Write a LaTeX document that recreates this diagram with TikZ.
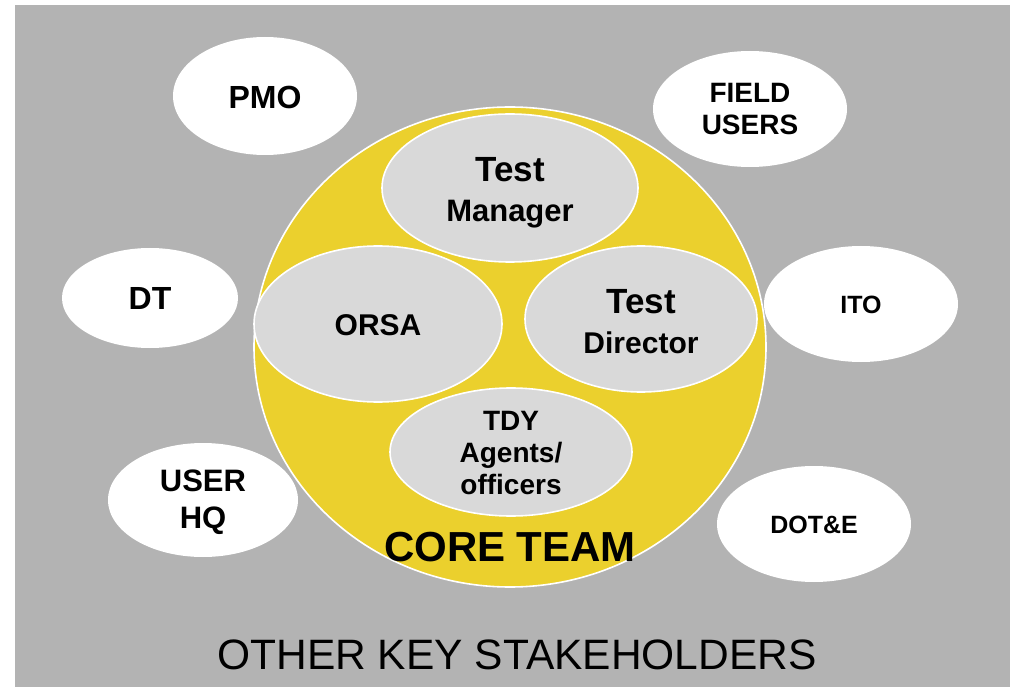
\documentclass[tikz,border=0pt]{standalone}
\usepackage{fontspec}
\setmainfont{Liberation Sans}
\definecolor{bggray}{RGB}{179,179,179}
\definecolor{coreyellow}{RGB}{235,208,45}
\definecolor{innergray}{RGB}{217,217,217}
\begin{document}
\begin{tikzpicture}[x=1pt,y=-1pt,
  outerov/.style={fill=white},
  coreov/.style={fill=coreyellow, draw=white, line width=1.6pt},
  innerov/.style={fill=innergray, draw=white, line width=1.6pt},
  lbl/.style={font=\bfseries, align=center, text=black, inner sep=0pt}]
\useasboundingbox (0,0) rectangle (1010,687);
\fill[bggray] (15,5.5) rectangle (1010,687);
% outer stakeholder ellipses
\path[outerov] (265,96) ellipse [x radius=92, y radius=59];
\path[outerov] (750,109) ellipse [x radius=97, y radius=58];
\path[outerov] (150,298) ellipse [x radius=88, y radius=50];
\path[outerov] (861,304) ellipse [x radius=97, y radius=58];
\path[outerov] (203,500) ellipse [x radius=95, y radius=57];
\path[outerov] (814,524) ellipse [x radius=97, y radius=58];
% core team
\path[coreov] (510,347) ellipse [x radius=256, y radius=240];
\path[innerov] (510,188) ellipse [x radius=128, y radius=74];
\path[innerov] (378,324) ellipse [x radius=124, y radius=78];
\path[innerov] (641,319) ellipse [x radius=116, y radius=73];
\path[innerov] (511,452) ellipse [x radius=121, y radius=64];
% labels
\node[lbl, font=\bfseries\fontsize{32}{36}\selectfont] (pmo) at (265,97) {PMO};
\node[lbl, font=\bfseries\fontsize{28}{32}\selectfont] (field) at (750,109) {FIELD\\USERS};
\node[lbl, font=\bfseries\fontsize{32}{36}\selectfont] (dt) at (150,298) {DT};
\node[lbl, font=\bfseries\fontsize{25}{30}\selectfont] (ito) at (861,305) {ITO};
\node[lbl, font=\bfseries\fontsize{31}{37}\selectfont] (userhq) at (203,502) {USER\\HQ};
\node[lbl, font=\bfseries\fontsize{25}{30}\selectfont] (dote) at (814,525) {DOT\&E};
\node[lbl, font=\bfseries\fontsize{31}{40}\selectfont] (tm) at (510,193) {{\fontsize{35}{40}\selectfont Test}\\Manager};
\node[lbl, font=\bfseries\fontsize{30}{36}\selectfont] (orsa) at (378,325) {ORSA};
\node[lbl, font=\bfseries\fontsize{30}{40}\selectfont] (td) at (641,322) {{\fontsize{35}{40}\selectfont Test}\\Director};
\node[lbl, font=\bfseries\fontsize{28}{32}\selectfont] (tdy) at (511,453) {TDY\\Agents/\\officers};
\node[lbl, font=\bfseries\fontsize{42}{48}\selectfont] (core) at (510,547) {CORE TEAM};
\node[lbl, font=\fontsize{42.5}{50}\selectfont] (others) at (517,655) {OTHER KEY STAKEHOLDERS};
\end{tikzpicture}
\end{document}
